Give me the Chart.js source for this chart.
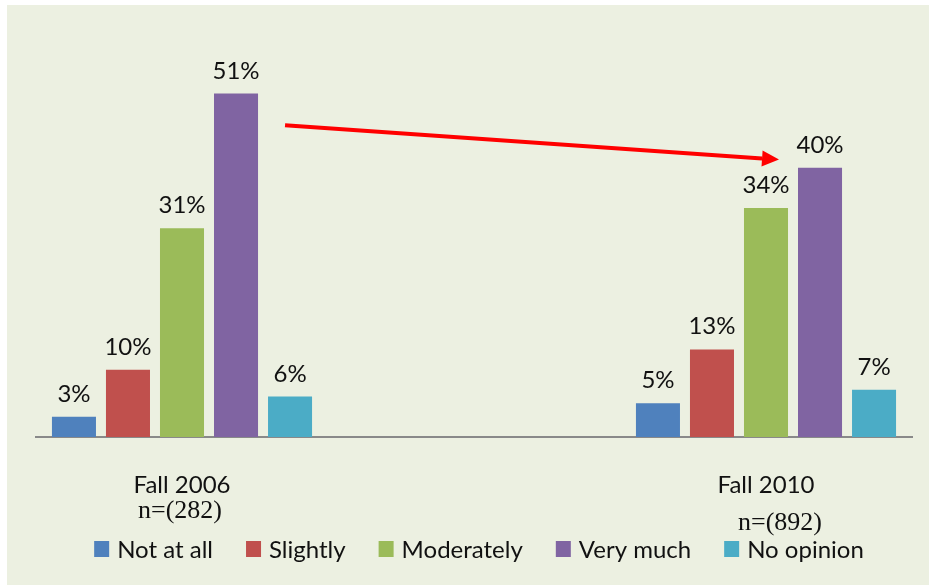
<!DOCTYPE html>
<html>
<head>
<meta charset="utf-8">
<script src="https://cdn.jsdelivr.net/npm/chart.js@4/dist/chart.umd.min.js"></script>
<style>
  html, body { margin: 0; padding: 0; background: #ffffff; }
  #wrap { width: 929px; height: 585px; }
</style>
</head>
<body>
<div id="wrap"><canvas id="chart" width="929" height="585"></canvas></div>
<script>
// categories (middle slot is the empty gap between the two surveys)
var categories = ['Fall 2006', '', 'Fall 2010'];
var sampleSizes = ['n=(282)', '', 'n=(892)'];

var seriesNames = ['Not at all', 'Slightly', 'Moderately', 'Very much', 'No opinion'];
var notAtAll = [3, null, 5];
var slightly = [10, null, 13];
var moderately = [31, null, 34];
var veryMuch = [51, null, 40];
var noOpinion = [6, null, 7];

// arrow goes from 2006 "Very much" to 2010 "Very much", values on the % scale
var arrowValues = [46.3, 41.2];

var colors = ['#4f81bd', '#c0504d', '#9bbb59', '#8064a2', '#4bacc6'];
var labelFont = '24px Lato';
var serifFont = '26px "Liberation Serif"';

var seriesData = [notAtAll, slightly, moderately, veryMuch, noOpinion];
var datasets = seriesNames.map(function (name, i) {
	return {
		label: name,
		data: seriesData[i],
		backgroundColor: colors[i],
		borderWidth: 0,
		categoryPercentage: 0.925,
		barPercentage: 0.815
	};
});

var backgroundPlugin = {
	id: 'bg',
	beforeDraw: function (chart) {
		var ctx = chart.ctx;
		ctx.save();
		ctx.fillStyle = '#ffffff';
		ctx.fillRect(0, 0, chart.width, chart.height);
		ctx.fillStyle = '#ecf0e1';
		ctx.fillRect(7, 5, chart.width - 7, chart.height - 5);
		ctx.restore();
	}
};

var extrasPlugin = {
	id: 'extras',
	afterDatasetsDraw: function (chart) {
		var ctx = chart.ctx;
		var yScale = chart.scales.y;
		var xScale = chart.scales.x;
		ctx.save();

		// value labels
		ctx.font = labelFont;
		ctx.fillStyle = '#111111';
		ctx.textAlign = 'center';
		ctx.textBaseline = 'alphabetic';
		chart.data.datasets.forEach(function (ds, i) {
			var meta = chart.getDatasetMeta(i);
			meta.data.forEach(function (bar, j) {
				if (ds.data[j] == null) return;
				ctx.fillText(ds.data[j] + '%', bar.x, bar.y - 15);
			});
		});

		// sample size lines under the category labels
		ctx.font = serifFont;
		ctx.textBaseline = 'middle';
		sampleSizes.forEach(function (s, j) {
			if (!s) return;
			var x = xScale.getPixelForValue(j);
			var y = j === 0 ? 511 : 523;
			ctx.fillText(s, x + (j === 0 ? -2 : 14), y);
		});

		// red arrow
		var vm = chart.getDatasetMeta(3);
		var b0 = vm.data[0], b2 = vm.data[2];
		var x1 = b0.x + b0.width / 2 + 27;
		var y1 = yScale.getPixelForValue(arrowValues[0]);
		var x2 = b2.x - b2.width / 2 - 19;
		var y2 = yScale.getPixelForValue(arrowValues[1]);
		var ang = Math.atan2(y2 - y1, x2 - x1);
		var headLen = 17, headW = 8;
		var bx = x2 - headLen * Math.cos(ang), by = y2 - headLen * Math.sin(ang);
		ctx.strokeStyle = '#ff0000';
		ctx.fillStyle = '#ff0000';
		ctx.lineWidth = 4;
		ctx.beginPath();
		ctx.moveTo(x1, y1);
		ctx.lineTo(bx, by);
		ctx.stroke();
		ctx.beginPath();
		ctx.moveTo(x2, y2);
		ctx.lineTo(bx + headW * Math.sin(ang), by - headW * Math.cos(ang));
		ctx.lineTo(bx - headW * Math.sin(ang), by + headW * Math.cos(ang));
		ctx.closePath();
		ctx.fill();

		ctx.restore();
	},
	afterDraw: function (chart) {
		// legend row along the bottom
		var ctx = chart.ctx;
		var area = chart.chartArea;
		ctx.save();
		ctx.font = labelFont;
		var boxW = 15, boxH = 16, gap = 8, itemGap = 33;
		var widths = seriesNames.map(function (n) { return boxW + gap + ctx.measureText(n).width; });
		var total = widths.reduce(function (a, b) { return a + b; }, 0) + itemGap * (widths.length - 1);
		var x = (area.left + area.right) / 2 + 5 - total / 2;
		var yMid = 550;
		ctx.textAlign = 'left';
		ctx.textBaseline = 'middle';
		seriesNames.forEach(function (n, i) {
			ctx.fillStyle = colors[i];
			ctx.fillRect(x, yMid - 9, boxW, boxH);
			ctx.fillStyle = '#111111';
			ctx.fillText(n, x + boxW + gap, yMid);
			x += widths[i] + itemGap;
		});
		ctx.restore();
	}
};

var chart = new Chart(document.getElementById('chart'), {
	type: 'bar',
	data: { labels: categories, datasets: datasets },
	options: {
		responsive: false,
		animation: false,
		layout: { padding: { top: 33, left: 36, right: 17, bottom: 0 } },
		plugins: {
			legend: { display: false },
			tooltip: { enabled: false }
		},
		scales: {
			x: {
				grid: { display: false, drawTicks: false },
				border: { color: '#898989', width: 2 },
				ticks: { font: { family: 'Lato', size: 24 }, color: '#111111', padding: 34 },
				afterFit: function (scale) { scale.height = 148; }
			},
			y: {
				display: false,
				min: 0,
				max: 60
			}
		}
	},
	plugins: [backgroundPlugin, extrasPlugin]
});
</script>
</body>
</html>
